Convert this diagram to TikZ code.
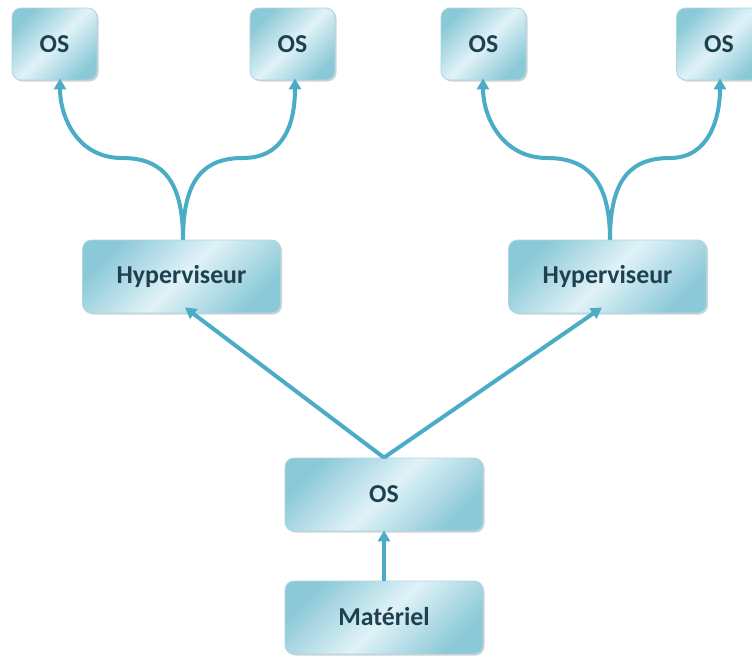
\documentclass[tikz,border=0pt]{standalone}
\usepackage{fontspec}
\setmainfont{Carlito}
\usetikzlibrary{arrows.meta,shadows}
\definecolor{lineC}{HTML}{4BACC6}
\definecolor{boxDark}{HTML}{8CC9D8}
\definecolor{boxLight}{HTML}{E0F2F7}
\definecolor{boxEdge}{HTML}{A9D8E3}
\definecolor{txtC}{HTML}{1E4150}
\tikzset{
  box/.style={rounded corners=9pt, draw=boxEdge, line width=0.8pt,
    left color=boxDark, right color=boxDark, middle color=boxLight, shading angle=45,
    drop shadow={opacity=0.35, shadow xshift=1.5pt, shadow yshift=-1.5pt},
    text=txtC, font=\fontsize{25.8}{30}\selectfont\bfseries, inner sep=0pt},
  smallbox/.style={box, minimum width=85pt, minimum height=72pt},
  bigbox/.style={box, minimum width=198pt, minimum height=73pt},
  arr/.style={draw=lineC, line width=4pt, -{Triangle[length=11pt,width=12pt]}}
}
\begin{document}
\begin{tikzpicture}[x=1pt,y=-1pt]
\useasboundingbox (0,0) rectangle (752,656);
\node[smallbox] (os1) at (54.5,44) {OS};
\node[smallbox] (os2) at (292.5,44) {OS};
\node[smallbox] (os3) at (483.5,44) {OS};
\node[smallbox] (os4) at (719,44) {OS};
\node[bigbox] (hv1) at (181.5,276.5) {\raisebox{1.5pt}{Hyperviseur}};
\node[bigbox] (hv2) at (607.5,276.5) {\raisebox{1.5pt}{Hyperviseur}};
\node[bigbox] (os) at (384,494.5) {OS};
\node[bigbox] (mat) at (384,617.5) {\raisebox{1.5pt}{Matériel}};
\coordinate (m1) at (122,158);
\coordinate (m2) at (243,158);
\coordinate (m3) at (547,158);
\coordinate (m4) at (670,158);
\draw[arr] ([xshift=1.5pt]hv1.north) .. controls +(0,-62) and +(38,0) .. (m1) .. controls +(-45,0) and +(0,38) .. ([xshift=5.5pt,yshift=2pt]os1.south);
\draw[arr] ([xshift=1.5pt]hv1.north) .. controls +(0,-62) and +(-38,0) .. (m2) .. controls +(45,0) and +(0,38) .. ([xshift=2.5pt,yshift=2pt]os2.south);
\draw[arr] ([xshift=2.5pt]hv2.north) .. controls +(0,-62) and +(38,0) .. (m3) .. controls +(-45,0) and +(0,38) .. ([xshift=-0.5pt,yshift=2pt]os3.south);
\draw[arr] ([xshift=2.5pt]hv2.north) .. controls +(0,-62) and +(-38,0) .. (m4) .. controls +(40,0) and +(0,38) .. ([xshift=1pt,yshift=2pt]os4.south);
\draw[arr] (os.north) -- ([xshift=3.5pt,yshift=6pt]hv1.south);
\draw[arr] (os.north) -- ([xshift=-5.5pt,yshift=6pt]hv2.south);
\draw[arr] (mat.north) -- ([yshift=1pt]os.south);
\end{tikzpicture}
\end{document}
